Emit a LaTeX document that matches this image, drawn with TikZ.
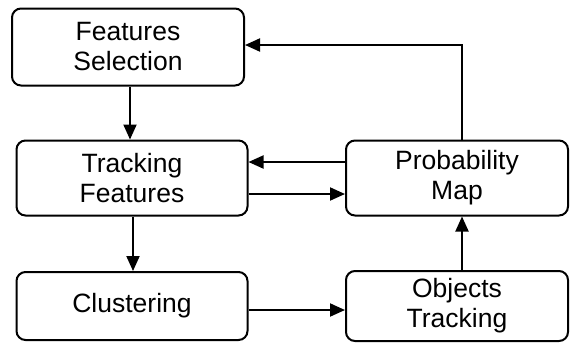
\documentclass[tikz,border=0pt]{standalone}
\usepackage{fontspec}
\setmainfont{Liberation Sans}
\usetikzlibrary{arrows.meta}
\begin{document}
\begin{tikzpicture}[x=1pt,y=-1pt,
  box/.style={draw,line width=2pt,rounded corners=9pt,inner sep=0pt,font=\fontsize{26.5}{30}\selectfont,align=center},
  conn/.style={line width=2pt,-{Triangle[length=15pt,width=13pt]}}]
\useasboundingbox (0,0) rectangle (575,346);
\node[box,minimum width=232pt,minimum height=77pt] (fs) at (128,47) {Features\\Selection};
\node[box,minimum width=231pt,minimum height=75pt] (tf) at (132,178) {Tracking\\Features};
\node[box,minimum width=231pt,minimum height=68pt] (cl) at (132,306) {Clustering};
\node[box,minimum width=222pt,minimum height=75pt] (pm) at (457,178) {Probability\\Map};
\node[box,minimum width=222pt,minimum height=70pt] (ot) at (457,306) {Objects\\Tracking};
\coordinate (c1) at (462,45);
\draw[conn] (fs.south -| 130,0) -- (tf.north -| 130,0);
\draw[conn] (tf.south -| 133,0) -- (cl.north -| 133,0);
\draw[conn] (pm.north -| c1) -- (c1) -- (fs.east |- c1);
\draw[conn] (pm.west |- 0,162) -- (tf.east |- 0,162);
\draw[conn] (tf.east |- 0,194) -- (pm.west |- 0,194);
\draw[conn] (cl.east |- 0,310) -- (ot.west |- 0,310);
\draw[conn] (ot.north -| c1) -- (pm.south -| c1);
\end{tikzpicture}
\end{document}
